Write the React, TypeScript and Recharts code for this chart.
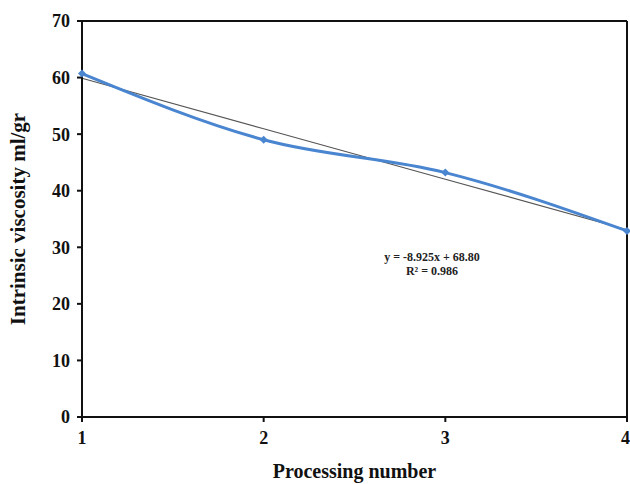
import { Line, LineChart, ReferenceLine, XAxis, YAxis } from 'recharts';

const processing = [1, 2, 3, 4];
const viscosity = [60.7, 49.0, 43.2, 32.9];
const slope = -8.925;
const intercept = 68.8;
const yTicks = [0, 10, 20, 30, 40, 50, 60, 70];

const chartData = processing.map((p, i) => ({
  p,
  viscosity: viscosity[i],
  trend: slope * p + intercept,
}));

const font = '"Liberation Serif", "Times New Roman", serif';
const blue = '#4a85d0';

function Diamond(props: any) {
  const { cx, cy } = props;
  if (cx == null || cy == null) return null;
  const r = 4;
  return (
    <polygon
      points={`${cx},${cy - r} ${cx + r},${cy} ${cx},${cy + r} ${cx - r},${cy}`}
      fill={blue}
    />
  );
}

function YTitle({ viewBox }: any) {
  const x = viewBox.x + 18;
  const y = viewBox.y + viewBox.height / 2;
  return (
    <text x={x} y={y} transform={`rotate(-90, ${x}, ${y})`} textAnchor="middle" dominantBaseline="central"
      fontFamily={font} fontWeight="bold" fontSize={21} fill="#111">
      Intrinsic viscosity ml/gr
    </text>
  );
}

function XTitle({ viewBox }: any) {
  const x = viewBox.x + viewBox.width / 2;
  const y = viewBox.y + 54;
  return (
    <text x={x} y={y} textAnchor="middle" dominantBaseline="central"
      fontFamily={font} fontWeight="bold" fontSize={20} fill="#111">
      Processing number
    </text>
  );
}

export default function App() {
  const tick = { fontFamily: font, fontWeight: 'bold', fontSize: 18, fill: '#111' };
  return (
    <div style={{ position: 'absolute', left: 0, top: 0, width: 630, height: 484, background: '#fff' }}>
      <LineChart width={630} height={484} data={chartData} margin={{ top: 21, right: 3, bottom: 0, left: 0 }}>
        <XAxis dataKey="p" type="number" domain={[1, 4]} ticks={processing} height={67}
          tick={tick} tickSize={5} tickMargin={9} stroke="#111" strokeWidth={2}
          label={<XTitle />} />
        <YAxis type="number" domain={[0, 70]} ticks={yTicks} width={82}
          tick={tick} tickSize={5} tickMargin={7} stroke="#111" strokeWidth={2}
          label={<YTitle />} />
        <ReferenceLine y={70} stroke="#111" strokeWidth={2} />
        <ReferenceLine x={4} stroke="#111" strokeWidth={2} />
        <Line dataKey="trend" type="linear" stroke="#555" strokeWidth={1.2} dot={false} isAnimationActive={false} />
        <Line dataKey="viscosity" type="monotone" stroke={blue} strokeWidth={3} dot={<Diamond />} activeDot={false} isAnimationActive={false} />
      </LineChart>
      <div style={{ position: 'absolute', left: 372, top: 250, width: 120, textAlign: 'center',
        fontFamily: font, fontWeight: 'bold', fontSize: 12, lineHeight: '14px', color: '#222' }}>
        <div>y = -8.925x + 68.80</div>
        <div>R² = 0.986</div>
      </div>
    </div>
  );
}
